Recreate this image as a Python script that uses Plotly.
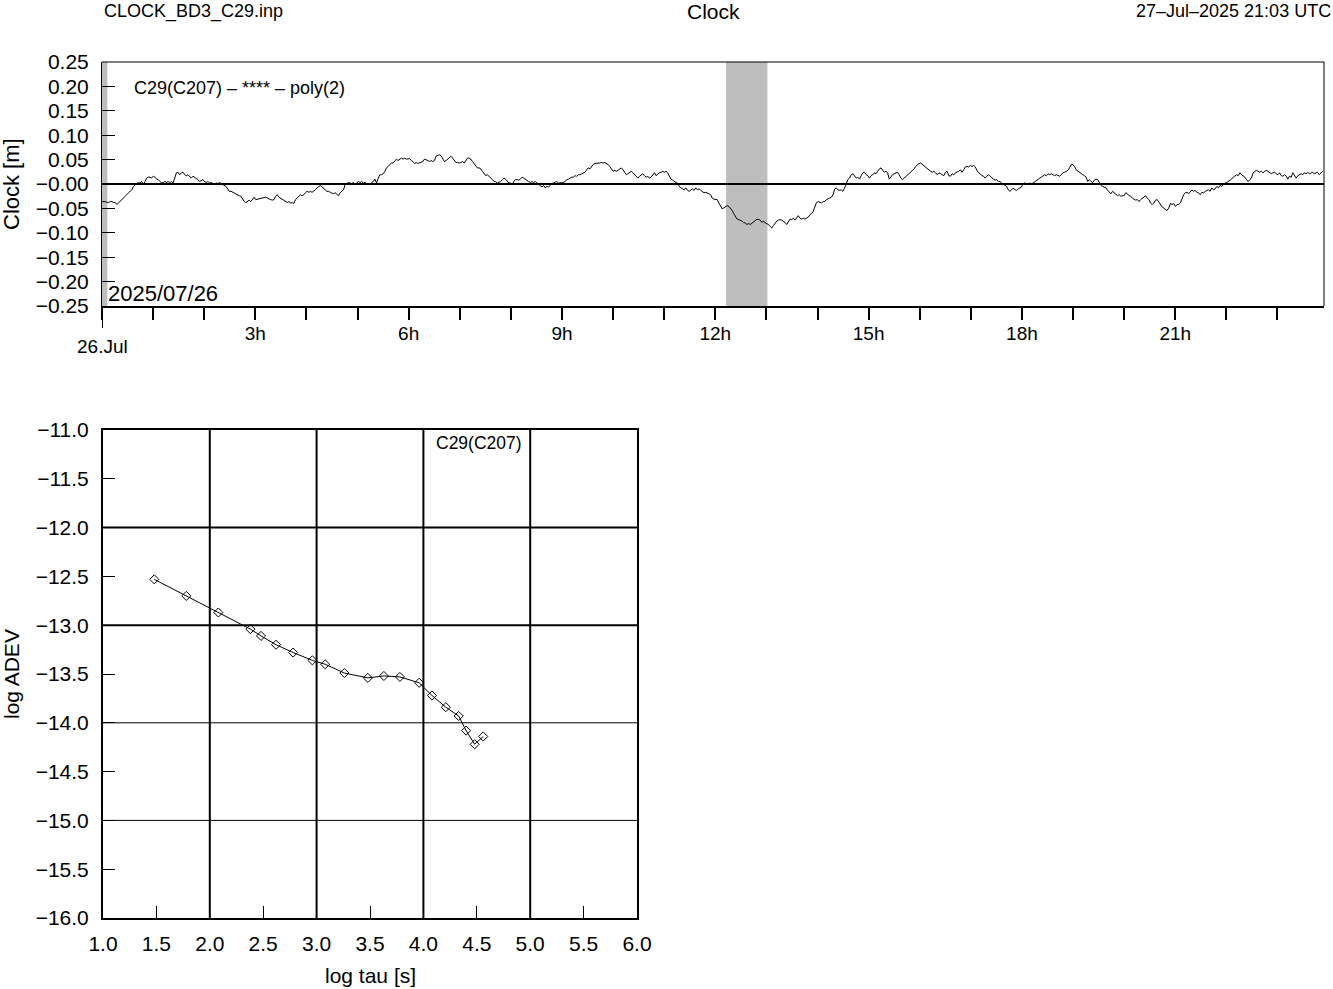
import numpy as np
import plotly.graph_objects as go

# ---------------- data ----------------
# clock residuals [m], sampled every ~116.5 s, split into ~3 h blocks
clock_a = [-0.036, -0.036, -0.036, -0.038, -0.038, -0.036, -0.036, -0.038, -0.038, -0.042, -0.039, -0.036,
           -0.032, -0.030, -0.025, -0.022, -0.018, -0.015, -0.012, -0.005, -0.001, 0.001, 0.003, 0.002,
           0.005, -0.001, 0.005, 0.012, 0.014, 0.014, 0.012, 0.016, 0.014, 0.010, 0.009, 0.005,
           0.002, 0.003, 0.005, 0.003, 0.005, 0.003, 0.005, 0.002, 0.014, 0.023, 0.024, 0.019,
           0.023, 0.024, 0.019, 0.017, 0.019, 0.016, 0.012, 0.016, 0.014, 0.012, 0.009, 0.005,
           0.008, 0.009, 0.005, 0.003, 0.005, 0.002, 0.003, 0.001, -0.001, 0.002, 0.001, 0.003,
           0.001, -0.001, -0.003, -0.005, -0.010, -0.015, -0.015, -0.017, -0.018, -0.020, -0.022, -0.024,
           -0.025, -0.032, -0.036, -0.038, -0.036, -0.033, -0.036, -0.031, -0.027]
clock_b = [-0.032, -0.031, -0.031, -0.029, -0.029, -0.027, -0.027, -0.029, -0.031, -0.032, -0.033, -0.032,
           -0.025, -0.022, -0.027, -0.029, -0.031, -0.033, -0.036, -0.038, -0.036, -0.039, -0.038, -0.040,
           -0.032, -0.029, -0.025, -0.022, -0.024, -0.022, -0.018, -0.015, -0.017, -0.015, -0.017, -0.015,
           -0.012, -0.008, -0.005, -0.003, -0.006, -0.010, -0.012, -0.015, -0.015, -0.017, -0.018, -0.020,
           -0.018, -0.022, -0.024, -0.018, -0.015, -0.012, -0.001, 0.001, 0.003, 0.002, 0.001, 0.003,
           -0.001, 0.002, 0.005, 0.003, 0.005, 0.002, 0.003, 0.001, -0.001, 0.000, 0.002, 0.005,
           0.010, 0.002, 0.012, 0.019, 0.019, 0.021, 0.026, 0.033, 0.036, 0.040, 0.043, 0.043,
           0.048, 0.051, 0.048, 0.051, 0.053, 0.051, 0.053, 0.051, 0.052]
clock_c = [0.052, 0.048, 0.046, 0.042, 0.044, 0.042, 0.043, 0.044, 0.046, 0.051, 0.050, 0.048,
           0.046, 0.048, 0.046, 0.048, 0.057, 0.058, 0.060, 0.058, 0.053, 0.046, 0.048, 0.051,
           0.055, 0.057, 0.053, 0.048, 0.044, 0.044, 0.043, 0.044, 0.046, 0.043, 0.048, 0.053,
           0.053, 0.051, 0.046, 0.042, 0.036, 0.033, 0.033, 0.031, 0.026, 0.021, 0.017, 0.019,
           0.016, 0.012, 0.009, 0.005, 0.005, 0.002, 0.003, 0.005, 0.009, 0.012, 0.010, 0.005,
           0.002, 0.002, -0.001, 0.005, 0.009, 0.009, 0.008, 0.010, 0.014, 0.012, 0.009, 0.007,
           0.005, 0.003, 0.005, 0.003, 0.005, 0.002, -0.001, -0.005, -0.006, -0.003, -0.008, -0.005,
           -0.006, -0.003, 0.001, 0.002, 0.003, 0.005, 0.002, 0.002, 0.003]
clock_d = [0.003, 0.005, 0.009, 0.010, 0.012, 0.014, 0.014, 0.017, 0.016, 0.019, 0.019, 0.021,
           0.023, 0.024, 0.029, 0.033, 0.031, 0.036, 0.040, 0.042, 0.042, 0.043, 0.043, 0.044,
           0.043, 0.044, 0.042, 0.040, 0.036, 0.031, 0.026, 0.028, 0.026, 0.028, 0.031, 0.033,
           0.029, 0.023, 0.019, 0.021, 0.024, 0.026, 0.023, 0.019, 0.016, 0.012, 0.016, 0.019,
           0.021, 0.017, 0.014, 0.016, 0.012, 0.014, 0.019, 0.023, 0.017, 0.021, 0.023, 0.024,
           0.026, 0.024, 0.026, 0.023, 0.016, 0.010, 0.008, 0.005, 0.003, 0.002, -0.005, -0.008,
           -0.010, -0.012, -0.008, -0.013, -0.015, -0.012, -0.010, -0.013, -0.008, -0.012, -0.010, -0.013,
           -0.015, -0.018, -0.017, -0.018, -0.020, -0.022, -0.029, -0.031, -0.032]
clock_e = [-0.032, -0.039, -0.046, -0.051, -0.049, -0.046, -0.044, -0.046, -0.049, -0.054, -0.061, -0.066,
           -0.072, -0.073, -0.074, -0.076, -0.079, -0.080, -0.083, -0.081, -0.083, -0.080, -0.076, -0.073,
           -0.072, -0.073, -0.074, -0.079, -0.076, -0.080, -0.081, -0.083, -0.087, -0.090, -0.085, -0.080,
           -0.076, -0.074, -0.073, -0.074, -0.076, -0.079, -0.083, -0.076, -0.072, -0.073, -0.070, -0.074,
           -0.068, -0.065, -0.070, -0.072, -0.070, -0.072, -0.070, -0.068, -0.063, -0.061, -0.056, -0.046,
           -0.038, -0.036, -0.038, -0.039, -0.036, -0.036, -0.032, -0.031, -0.029, -0.027, -0.022, -0.010,
           -0.008, -0.012, -0.013, -0.012, -0.015, -0.008, 0.002, 0.009, 0.012, 0.019, 0.021, 0.016,
           0.012, 0.014, 0.010, 0.017, 0.023, 0.024, 0.019, 0.017, 0.012]
clock_f = [0.017, 0.019, 0.023, 0.021, 0.026, 0.031, 0.033, 0.028, 0.024, 0.026, 0.023, 0.010,
           0.016, 0.019, 0.021, 0.023, 0.024, 0.019, 0.012, 0.009, 0.012, 0.016, 0.019, 0.023,
           0.026, 0.029, 0.031, 0.036, 0.040, 0.042, 0.043, 0.040, 0.036, 0.035, 0.031, 0.028,
           0.026, 0.024, 0.026, 0.023, 0.019, 0.023, 0.021, 0.019, 0.017, 0.024, 0.026, 0.017,
           0.016, 0.021, 0.019, 0.023, 0.024, 0.026, 0.029, 0.024, 0.029, 0.035, 0.036, 0.035,
           0.038, 0.036, 0.038, 0.035, 0.028, 0.023, 0.021, 0.017, 0.016, 0.012, 0.016, 0.019,
           0.016, 0.012, 0.010, 0.008, 0.009, 0.005, 0.005, 0.002, -0.001, -0.003, -0.005, -0.012,
           -0.015, -0.012, -0.008, -0.012, -0.013, -0.010, -0.008, -0.006, 0.001]
clock_g = [0.002, 0.001, -0.001, 0.002, 0.001, 0.002, 0.005, 0.008, 0.010, 0.012, 0.014, 0.017,
           0.019, 0.017, 0.021, 0.019, 0.021, 0.019, 0.017, 0.019, 0.017, 0.016, 0.019, 0.023,
           0.024, 0.026, 0.028, 0.033, 0.040, 0.040, 0.036, 0.029, 0.026, 0.023, 0.021, 0.019,
           0.017, 0.014, 0.005, 0.009, 0.005, 0.003, 0.008, 0.010, 0.009, 0.002, -0.003, -0.005,
           -0.006, -0.008, -0.013, -0.017, -0.020, -0.015, -0.018, -0.022, -0.024, -0.022, -0.025, -0.024,
           -0.024, -0.018, -0.020, -0.024, -0.025, -0.029, -0.032, -0.033, -0.032, -0.036, -0.032, -0.029,
           -0.027, -0.024, -0.029, -0.032, -0.039, -0.042, -0.039, -0.033, -0.032, -0.038, -0.044, -0.047,
           -0.049, -0.053, -0.054, -0.049, -0.040, -0.042, -0.040, -0.046, -0.042]
clock_h = [-0.042, -0.039, -0.029, -0.022, -0.018, -0.017, -0.020, -0.015, -0.012, -0.015, -0.013, -0.017,
           -0.018, -0.022, -0.017, -0.018, -0.015, -0.013, -0.012, -0.015, -0.008, -0.012, -0.010, -0.005,
           -0.008, -0.003, -0.005, -0.001, 0.002, 0.003, 0.005, 0.008, 0.010, 0.014, 0.017, 0.019,
           0.017, 0.023, 0.019, 0.017, 0.014, 0.009, 0.005, 0.009, 0.012, 0.023, 0.026, 0.028,
           0.026, 0.024, 0.026, 0.023, 0.026, 0.028, 0.026, 0.024, 0.021, 0.023, 0.024, 0.021,
           0.019, 0.023, 0.017, 0.016, 0.019, 0.016, 0.010, 0.016, 0.014, 0.023, 0.016, 0.012,
           0.017, 0.019, 0.021, 0.019, 0.023, 0.021, 0.024, 0.021, 0.023, 0.024, 0.021, 0.023,
           0.024, 0.019, 0.023, 0.026]

clock_m = clock_a + clock_b + clock_c + clock_d + clock_e + clock_f + clock_g + clock_h
epoch_step_s = 116.5
epoch_h = np.arange(len(clock_m)) * epoch_step_s / 3600.0

gap_start_h = [0.0, 12.21]
gap_end_h = [0.105, 13.02]

hour_ticks = list(range(0, 24))
hour_labels = ["" if (h % 3 or h == 0) else f"{h}h" for h in hour_ticks]

clock_ticks = [0.25, 0.20, 0.15, 0.10, 0.05, 0.0, -0.05, -0.10, -0.15, -0.20, -0.25]
clock_labels = ["0.25", "0.20", "0.15", "0.10", "0.05", "\u22120.00", "\u22120.05", "\u22120.10",
                "\u22120.15", "\u22120.20", "\u22120.25"]

# Allan deviation
log_tau = [1.48, 1.78, 2.08, 2.38, 2.48, 2.62, 2.78, 2.96, 3.08, 3.26,
           3.48, 3.63, 3.78, 3.96, 4.08, 4.21, 4.33, 4.40, 4.48, 4.56]
log_adev = [-12.53, -12.70, -12.87, -13.04, -13.11, -13.20, -13.28, -13.36, -13.40, -13.49,
            -13.54, -13.52, -13.53, -13.59, -13.72, -13.84, -13.93, -14.08, -14.22, -14.14]

tau_ticks = [1.0, 1.5, 2.0, 2.5, 3.0, 3.5, 4.0, 4.5, 5.0, 5.5, 6.0]
tau_labels = [f"{v:.1f}" for v in tau_ticks]
adev_ticks = [-11.0, -11.5, -12.0, -12.5, -13.0, -13.5, -14.0, -14.5, -15.0, -15.5, -16.0]
adev_labels = [f"\u2212{abs(v):.1f}" for v in adev_ticks]
tau_grid = [2, 3, 4, 5]
adev_grid = [-12, -13, -14, -15]
adev_grid_w = [2, 2, 1, 1]

# ---------------- figure ----------------
W, H = 1333, 989
FONT = "Liberation Sans, Arial, Helvetica, sans-serif"


def px(x):
    return x / W


def py(y):
    return 1 - y / H


fig = go.Figure()
fig.add_trace(go.Scatter(x=epoch_h, y=clock_m, mode="lines",
                         line=dict(color="black", width=1), xaxis="x", yaxis="y",
                         showlegend=False, hoverinfo="skip"))
fig.add_trace(go.Scatter(x=log_tau, y=log_adev, mode="lines+markers",
                         line=dict(color="black", width=1),
                         marker=dict(symbol="diamond-open", size=7, color="black",
                                     line=dict(width=1, color="black")),
                         xaxis="x2", yaxis="y2", showlegend=False))

shapes = []
for a, b in zip(gap_start_h, gap_end_h):
    shapes.append(dict(type="rect", xref="x", yref="y domain", x0=a, x1=b, y0=0, y1=1,
                       fillcolor="#bebebe", line=dict(width=0), layer="below"))
# top/right borders of the top panel
shapes.append(dict(type="line", xref="x domain", yref="y domain", x0=0, x1=1, y0=1, y1=1,
                   line=dict(color="black", width=1)))
shapes.append(dict(type="line", xref="x domain", yref="y domain", x0=1, x1=1, y0=0, y1=1,
                   line=dict(color="black", width=1)))
# long day tick
shapes.append(dict(type="line", xref="x", yref="paper", x0=0, x1=0, y0=py(306), y1=py(328),
                   line=dict(color="black", width=2)))
# ADEV grid
for v in tau_grid:
    shapes.append(dict(type="line", xref="x2", yref="y2 domain", x0=v, x1=v, y0=0, y1=1,
                       line=dict(color="black", width=2), layer="below"))
for v, w in zip(adev_grid, adev_grid_w):
    shapes.append(dict(type="line", xref="x2 domain", yref="y2", x0=0, x1=1, y0=v, y1=v,
                       line=dict(color="black", width=w), layer="below"))

annotations = [
    dict(text="CLOCK_BD3_C29.inp", x=px(102), y=py(11), xanchor="left", font=dict(size=18)),
    dict(text="Clock", x=px(714), y=py(11.5), xanchor="center", font=dict(size=21)),
    dict(text="27\u2013Jul\u20132025 21:03 UTC", x=px(1333), y=py(11), xanchor="right", font=dict(size=18)),
    dict(text="C29(C207) \u2013 **** \u2013 poly(2)", x=px(132), y=py(88), xanchor="left", font=dict(size=18)),
    dict(text="2025/07/26", x=px(106), y=py(293), xanchor="left", font=dict(size=22)),
    dict(text="26.Jul", x=px(102), y=py(346), xanchor="center", font=dict(size=19)),
    dict(text="Clock [m]", x=px(11), y=py(184), xanchor="center", textangle=-90, font=dict(size=22)),
    dict(text="log ADEV", x=px(11), y=py(674), xanchor="center", textangle=-90, font=dict(size=21)),
    dict(text="log tau [s]", x=px(370), y=py(975), xanchor="center", font=dict(size=21)),
    dict(text="C29(C207)", x=px(479), y=py(443), xanchor="center", font=dict(size=17.5)),
]
for a in annotations:
    a.update(xref="paper", yref="paper", yanchor="middle", showarrow=False)

fig.update_layout(
    width=W, height=H, autosize=False,
    margin=dict(l=0, r=0, t=0, b=0, pad=0),
    paper_bgcolor="white", plot_bgcolor="white",
    font=dict(family=FONT, color="black", size=18),
    shapes=shapes, annotations=annotations,
    xaxis=dict(domain=[px(102), px(1324)], range=[0, 23.91], anchor="y", automargin=False,
               tickmode="array", tickvals=hour_ticks, ticktext=hour_labels,
               ticks="outside", ticklen=12, tickwidth=2, tickcolor="black",
               showline=True, linecolor="black", linewidth=2,
               showgrid=False, zeroline=False, tickfont=dict(size=19), ticklabelstandoff=-3),
    yaxis=dict(domain=[py(306), py(62)], range=[-0.25, 0.25], anchor="x", automargin=False,
               tickmode="array", tickvals=clock_ticks, ticktext=clock_labels,
               ticks="inside", ticklen=13, tickwidth=1, tickcolor="black",
               showline=True, linecolor="black", linewidth=1,
               showgrid=False, zeroline=True, zerolinecolor="black", zerolinewidth=2,
               tickfont=dict(size=21), ticklabelstandoff=8),
    xaxis2=dict(domain=[px(103), px(637)], range=[1, 6], anchor="y2", automargin=False,
                tickmode="array", tickvals=tau_ticks, ticktext=tau_labels,
                ticks="inside", ticklen=12, tickwidth=1, tickcolor="black",
                showline=True, mirror=True, linecolor="black", linewidth=2,
                showgrid=False, zeroline=False, tickfont=dict(size=21), ticklabelstandoff=6),
    yaxis2=dict(domain=[py(918), py(430)], range=[-16, -11], anchor="x2", automargin=False,
                tickmode="array", tickvals=adev_ticks, ticktext=adev_labels,
                ticks="inside", ticklen=12, tickwidth=1, tickcolor="black",
                showline=True, mirror=True, linecolor="black", linewidth=2,
                showgrid=False, zeroline=False, tickfont=dict(size=21), ticklabelstandoff=8),
)

fig.write_html("out.html", config={"displayModeBar": False},
               post_script="document.body.style.margin='0';document.body.style.overflow='hidden';")
